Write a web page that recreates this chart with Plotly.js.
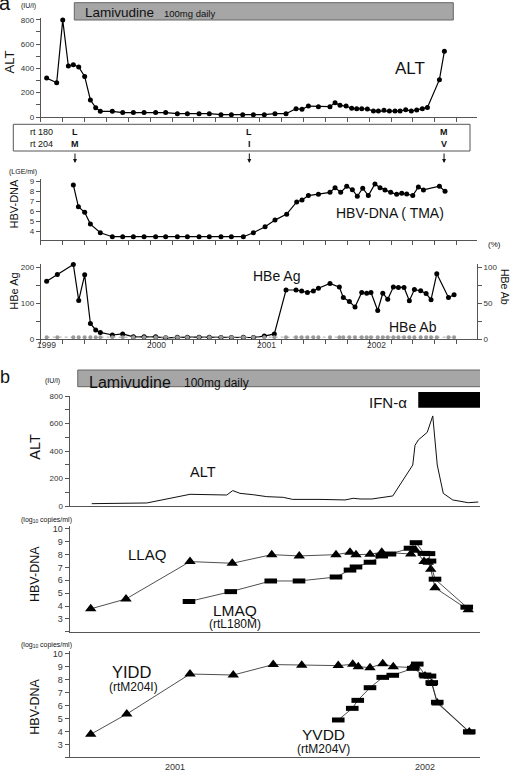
<!DOCTYPE html>
<html><head><meta charset="utf-8">
<script src="https://cdn.plot.ly/plotly-3.0.1.min.js"></script>
<style>html,body{margin:0;padding:0;background:#fff}#chart{width:512px;height:772px}</style>
</head><body><div id="chart"></div>
<script>
// ---------- Panel a data (decimal years) ----------
const altA_dates = [1999.003,1999.094,1999.149,1999.200,1999.245,1999.294,1999.348,1999.400,1999.448,1999.490,1999.599,1999.693,1999.790,1999.887,1999.992,2000.083,2000.189,2000.280,2000.386,2000.479,2000.585,2000.679,2000.782,2000.879,2000.978,2001.075,2001.175,2001.266,2001.320,2001.378,2001.469,2001.574,2001.620,2001.665,2001.720,2001.771,2001.816,2001.862,2001.913,2001.968,2002.013,2002.064,2002.113,2002.164,2002.210,2002.261,2002.312,2002.361,2002.412,2002.458,2002.567,2002.612];
const altA_values = [320,282,797,419,430,411,334,140,77,47,47,36,36,36,36,36,27,27,27,27,19,19,19,19,19,27,27,68,63,90,85,85,118,96,90,71,68,68,66,49,49,55,49,49,49,60,49,58,68,79,307,540];

const dnaA_dates = [1999.245,1999.291,1999.348,1999.400,1999.490,1999.599,1999.693,1999.790,1999.887,1999.992,2000.083,2000.189,2000.280,2000.386,2000.479,2000.585,2000.679,2000.788,2000.879,2000.985,2001.075,2001.181,2001.272,2001.320,2001.378,2001.469,2001.574,2001.620,2001.671,2001.726,2001.777,2001.822,2001.871,2001.922,2001.982,2002.028,2002.073,2002.125,2002.179,2002.225,2002.270,2002.325,2002.376,2002.422,2002.567,2002.618];
const dnaA_values = [8.63,6.45,5.88,4.7,3.83,3.43,3.43,3.43,3.43,3.43,3.43,3.43,3.43,3.43,3.43,3.43,3.43,3.43,3.83,4.44,5.1,5.7,6.92,7.12,7.56,7.69,7.89,8.36,7.89,8.5,8.16,7.49,8.3,7.56,8.73,8.36,8.13,7.89,7.69,7.79,7.72,7.56,8.43,8.13,8.5,7.99];

const hbe_dates = [1999.003,1999.100,1999.245,1999.294,1999.348,1999.400,1999.448,1999.490,1999.599,1999.693,1999.790,1999.887,1999.992,2000.083,2000.189,2000.280,2000.386,2000.479,2000.585,2000.679,2000.788,2000.879,2000.978,2001.069,2001.175,2001.266,2001.317,2001.369,2001.423,2001.469,2001.574,2001.659,2001.695,2001.750,2001.801,2001.862,2001.907,2001.946,2002.007,2002.053,2002.098,2002.149,2002.195,2002.246,2002.294,2002.340,2002.397,2002.446,2002.491,2002.543,2002.649,2002.700];
const hbeAg_values = [161,180,208,108,179,44,26,19,12,15,7,7,7,4,6,6,6,6,5,5,6,5,9,15,137,137,134,130,134,142,155,145,116,105,90,130,128,130,80,128,111,145,144,144,107,138,135,127,110,182,116,124];
const hbeAb_values = [3,3,3,3,3,3,3,3,3,3,3,3,3,3,3,3,3,3,3,3,3,3,3,3,3,3,3,3,3,3,3,3,3,3,3,3,3,3,3,3,3,3,3,3,3,3,3,3,3,3,3,3];

const yearLabelsA = [1999, 2000, 2001, 2002];
const lamivudineA = [1999.254, 2002.693];
const mutationDates = [1999.26, 2000.842, 2002.609];
const rt180 = ['L', 'L', 'M'];
const rt204 = ['M', 'I', 'V'];

// ---------- Panel b data ----------
const altB_dates = [2000.667,2000.887,2001.060,2001.207,2001.231,2001.260,2001.313,2001.367,2001.433,2001.471,2001.580,2001.633,2001.680,2001.713,2001.740,2001.787,2001.833,2001.871,2001.951,2001.960,2001.973,2002.009,2002.031,2002.049,2002.073,2002.111,2002.173,2002.213];
const altB_values = [17,22,85,80,112,92,82,68,63,48,48,44,44,56,51,51,61,73,298,441,480,536,655,298,92,44,24,29];

const llaq_dates = [2000.663,2000.804,2001.060,2001.229,2001.387,2001.497,2001.644,2001.700,2001.724,2001.780,2001.827,2001.943,2001.962,2001.996,2002.013,2002.023,2002.040,2002.173];
const llaq_values = [3.78,4.55,7.46,7.33,8.0,7.9,8.0,8.18,8.0,8.03,8.19,8.05,8.35,7.47,7.4,6.87,5.42,3.7];
const lmaq_dates = [2001.056,2001.223,2001.383,2001.496,2001.644,2001.700,2001.724,2001.780,2001.827,2001.860,2001.940,2001.964,2001.996,2002.016,2002.020,2002.040,2002.167];
const lmaq_values = [4.35,5.12,5.95,5.95,6.26,6.8,7.04,7.41,7.9,8.05,8.5,8.93,8.1,8.08,7.5,6.09,3.91];

const yidd_dates = [2000.663,2000.807,2001.060,2001.233,2001.393,2001.507,2001.653,2001.711,2001.733,2001.780,2001.831,2001.873,2001.947,2002.000,2002.027,2002.049,2002.177];
const yidd_values = [3.78,5.35,8.45,8.37,9.18,9.12,9.1,9.2,9.02,8.94,9.25,9.02,8.95,8.3,7.72,6.2,3.95];
const yvdd_dates = [2001.653,2001.709,2001.731,2001.780,2001.831,2001.871,2001.953,2001.969,2002.000,2002.020,2002.027,2002.049,2002.177];
const yvdd_values = [4.89,5.79,6.41,7.39,8.19,8.35,8.89,9.22,8.37,8.29,7.78,6.26,3.98];

const yearLabelsB = [2001, 2002];
const lamivudineB = [2000.611, 2002.227];
const ifnAlpha = [2001.973, 2002.224];

// ---------- layout helpers ----------
const W = 512, H = 772;
const F = 'Liberation Sans, Arial, Helvetica, sans-serif';
const fx = p => p / W;
const fy = p => 1 - p / H;
const AX = '#555';

function ax(extra) {
  return Object.assign({
    showline: true, linecolor: AX, linewidth: 1, zeroline: false, showgrid: false,
    ticks: 'outside', tickcolor: AX, ticklen: 4, tickwidth: 1,
    tickfont: {size: 8, color: '#333', family: F}, fixedrange: true, automargin: false
  }, extra);
}
function ann(text, px, py, size, extra) {
  return Object.assign({
    text: text, x: fx(px), y: fy(py), xref: 'paper', yref: 'paper', showarrow: false,
    xanchor: 'center', yanchor: 'middle', font: {size: size, family: F, color: '#111'}
  }, extra || {});
}

const xA = [fx(40.7), fx(477)];
const xArange = [1998.949, 2002.908];
const xB = [fx(69.5), fx(480)];
const xBrange = [2000.578, 2002.22];

const traces = [
  {x: altA_dates, y: altA_values, xaxis: 'x', yaxis: 'y', mode: 'lines+markers',
   line: {color: '#000', width: 1.2}, marker: {color: '#000', size: 5}, cliponaxis: false},
  {x: dnaA_dates, y: dnaA_values, xaxis: 'x2', yaxis: 'y2', mode: 'lines+markers',
   line: {color: '#000', width: 1.2}, marker: {color: '#000', size: 5}, cliponaxis: false},
  {x: hbe_dates, y: hbeAb_values, xaxis: 'x3', yaxis: 'y4', mode: 'lines+markers',
   line: {color: '#aaa', width: 1, dash: 'dot'}, marker: {color: '#999', size: 4}, cliponaxis: false},
  {x: hbe_dates, y: hbeAg_values, xaxis: 'x3', yaxis: 'y3', mode: 'lines+markers',
   line: {color: '#000', width: 1.2}, marker: {color: '#000', size: 5}, cliponaxis: false},
  {x: altB_dates, y: altB_values, xaxis: 'x4', yaxis: 'y5', mode: 'lines',
   line: {color: '#111', width: 1}, cliponaxis: false},
  {x: llaq_dates, y: llaq_values, xaxis: 'x5', yaxis: 'y6', mode: 'lines+markers',
   line: {color: '#222', width: 0.8}, marker: {symbol: 'triangle-up', color: '#000', size: 10}, cliponaxis: false},
  {x: lmaq_dates, y: lmaq_values, xaxis: 'x5', yaxis: 'y6', mode: 'lines+markers',
   line: {color: '#222', width: 0.8}, marker: {symbol: 'line-ew', size: 9, line: {color: '#000', width: 5}}, cliponaxis: false},
  {x: yidd_dates, y: yidd_values, xaxis: 'x6', yaxis: 'y7', mode: 'lines+markers',
   line: {color: '#222', width: 0.8}, marker: {symbol: 'triangle-up', color: '#000', size: 10}, cliponaxis: false},
  {x: yvdd_dates, y: yvdd_values, xaxis: 'x6', yaxis: 'y7', mode: 'lines+markers',
   line: {color: '#222', width: 0.8}, marker: {symbol: 'line-ew', size: 9, line: {color: '#000', width: 5}}, cliponaxis: false}
];

const aTicks = {tickmode: 'linear', tick0: 1998.949, dtick: 0.1987, showticklabels: false};

const layout = {
  width: W, height: H, margin: {l: 0, r: 0, t: 0, b: 0, pad: 0},
  paper_bgcolor: '#fff', plot_bgcolor: 'rgba(0,0,0,0)', showlegend: false,
  font: {family: F},
  // panel a
  xaxis: ax(Object.assign({domain: xA, range: xArange, anchor: 'y'}, aTicks)),
  yaxis: ax({domain: [fy(117), fy(17.9)], range: [0, 815], anchor: 'x',
    tickvals: [0,100,200,300,400,500,600,700,800], ticktext: ['0','','200','','400','','600','','800']}),
  xaxis2: ax(Object.assign({domain: xA, range: xArange, anchor: 'y2'}, aTicks)),
  yaxis2: ax({domain: [fy(240), fy(179.3)], range: [3.1, 9.2], anchor: 'x2',
    tickvals: [4,5,6,7,8,9]}),
  xaxis3: ax(Object.assign({domain: xA, range: xArange, anchor: 'y3'}, aTicks)),
  yaxis3: ax({domain: [fy(339.3), fy(263.7)], range: [0, 210], anchor: 'x3',
    tickvals: [0,50,100,150,200], ticktext: ['0','','100','','200']}),
  yaxis4: ax({overlaying: 'y3', side: 'right', range: [0, 105], anchor: 'x3',
    tickvals: [0,25,50,75,100], ticktext: ['0','','50','','100']}),
  // panel b
  xaxis4: ax({domain: xB, range: xBrange, anchor: 'y5', ticks: '', showticklabels: false}),
  yaxis5: ax({domain: [fy(506), fy(396)], range: [0, 800], anchor: 'x4',
    tickvals: [0,100,200,300,400,500,600,700,800], ticktext: ['0','','200','','400','','600','','800']}),
  xaxis5: ax({domain: xB, range: xBrange, anchor: 'y6', ticks: '', showticklabels: false}),
  yaxis6: ax({domain: [fy(631.7), fy(526.4)], range: [2, 10.2], anchor: 'x5',
    tickvals: [2,3,4,5,6,7,8,9,10], ticktext: ['','3','4','5','6','7','8','9','10'], tickfont: {size: 9, color: '#333', family: F}}),
  xaxis6: ax({domain: xB, range: xBrange, anchor: 'y7', ticks: '', showticklabels: false}),
  yaxis7: ax({domain: [fy(757.3), fy(651.4)], range: [2, 10.2], anchor: 'x6',
    tickvals: [2,3,4,5,6,7,8,9,10], ticktext: ['','3','4','5','6','7','8','9','10'], tickfont: {size: 9, color: '#333', family: F}}),
  shapes: [
    {type: 'rect', xref: 'x', yref: 'paper', x0: lamivudineA[0], x1: lamivudineA[1], y0: fy(20), y1: fy(2.7),
     fillcolor: '#a6a6a6', line: {color: '#666', width: 1}},
    {type: 'rect', xref: 'paper', yref: 'paper', x0: fx(13.3), x1: fx(470), y0: fy(151), y1: fy(124.3),
     line: {color: '#555', width: 1}},
    {type: 'rect', xref: 'x4', yref: 'paper', x0: lamivudineB[0], x1: lamivudineB[1], y0: fy(386.7), y1: fy(370),
     fillcolor: '#a6a6a6', line: {color: '#666', width: 1}},
    {type: 'rect', xref: 'x4', yref: 'paper', x0: ifnAlpha[0], x1: ifnAlpha[1], y0: fy(407.7), y1: fy(392),
     fillcolor: '#000', line: {color: '#000', width: 0}}
  ],
  annotations: []
};

const A = layout.annotations;
// panel a labels
A.push(ann('a', 5, 3, 20));
A.push(ann('(IU/l)', 28.7, 6, 7));
A.push(ann('ALT', 9.5, 62, 13, {textangle: -90}));
A.push(ann('Lamivudine', 83, 12.5, 13.5, {xanchor: 'left'}));
A.push(ann('100mg daily', 162, 13.5, 9.5, {xanchor: 'left'}));
A.push(ann('ALT', 410, 69, 17));
A.push(ann('rt 180', 28, 132.3, 9, {xanchor: 'left'}));
A.push(ann('rt 204', 28, 143.7, 9, {xanchor: 'left'}));
mutationDates.forEach((d, i) => {
  A.push({text: '<b>' + rt180[i] + '</b>', x: d, y: fy(132.3), xref: 'x', yref: 'paper', showarrow: false,
          xanchor: 'center', yanchor: 'middle', font: {size: 9, family: F, color: '#111'}});
  A.push({text: '<b>' + rt204[i] + '</b>', x: d, y: fy(143.7), xref: 'x', yref: 'paper', showarrow: false,
          xanchor: 'center', yanchor: 'middle', font: {size: 9, family: F, color: '#111'}});
  A.push({text: '', x: d, y: fy(163), xref: 'x', yref: 'paper', showarrow: true, ax: 0, ay: -11,
          arrowhead: 2, arrowsize: 0.8, arrowwidth: 1, arrowcolor: '#111'});
});
A.push(ann('(LGE/ml)', 23, 172.3, 7));
A.push(ann('HBV-DNA', 13, 203.5, 11, {textangle: -90}));
A.push(ann('HBV-DNA ( TMA)', 390, 212.7, 14));
A.push(ann('(%)', 494, 244.3, 8));
A.push(ann('HBe Ag', 14, 291.7, 11, {textangle: -90}));
A.push(ann('HBe Ab', 505, 287, 10.5, {textangle: 90}));
A.push(ann('HBe Ag', 276, 275.7, 14));
A.push(ann('HBe Ab', 413, 326.7, 14));
yearLabelsA.forEach(y => {
  A.push({text: String(y), x: y, y: fy(344.5), xref: 'x3', yref: 'paper', showarrow: false,
          xanchor: 'center', yanchor: 'middle', font: {size: 8.5, family: F, color: '#333'}});
});
// panel b labels
A.push(ann('b', 5, 377, 18));
A.push(ann('(IU/l)', 52.5, 381, 7));
A.push(ann('Lamivudine', 87, 382, 16, {xanchor: 'left'}));
A.push(ann('100mg daily', 182, 383, 12, {xanchor: 'left'}));
A.push(ann('IFN-α', 388, 402.3, 15));
A.push(ann('ALT', 35, 446.7, 14.5, {textangle: -90}));
A.push(ann('ALT', 202.7, 472.3, 14.5));
A.push(ann('(log<sub>10</sub> copies/ml)', 46.7, 520, 7));
A.push(ann('HBV-DNA', 35, 574, 12.5, {textangle: -90}));
A.push(ann('LLAQ', 146.7, 554, 15));
A.push(ann('LMAQ', 235.3, 610.7, 15.5));
A.push(ann('(rtL180M)', 235, 624, 12));
A.push(ann('(log<sub>10</sub> copies/ml)', 46.7, 645, 7));
A.push(ann('HBV-DNA', 35, 706.7, 12.5, {textangle: -90}));
A.push(ann('YIDD', 131.7, 671.7, 16.5));
A.push(ann('(rtM204I)', 133, 687.3, 12));
A.push(ann('YVDD', 323.3, 734, 15.5));
A.push(ann('(rtM204V)', 323, 749.3, 12));
yearLabelsB.forEach(y => {
  A.push({text: String(y), x: y, y: fy(766.7), xref: 'x6', yref: 'paper', showarrow: false,
          xanchor: 'center', yanchor: 'middle', font: {size: 9, family: F, color: '#333'}});
});

Plotly.newPlot('chart', traces, layout, {staticPlot: true, displayModeBar: false});
</script>
</body></html>
